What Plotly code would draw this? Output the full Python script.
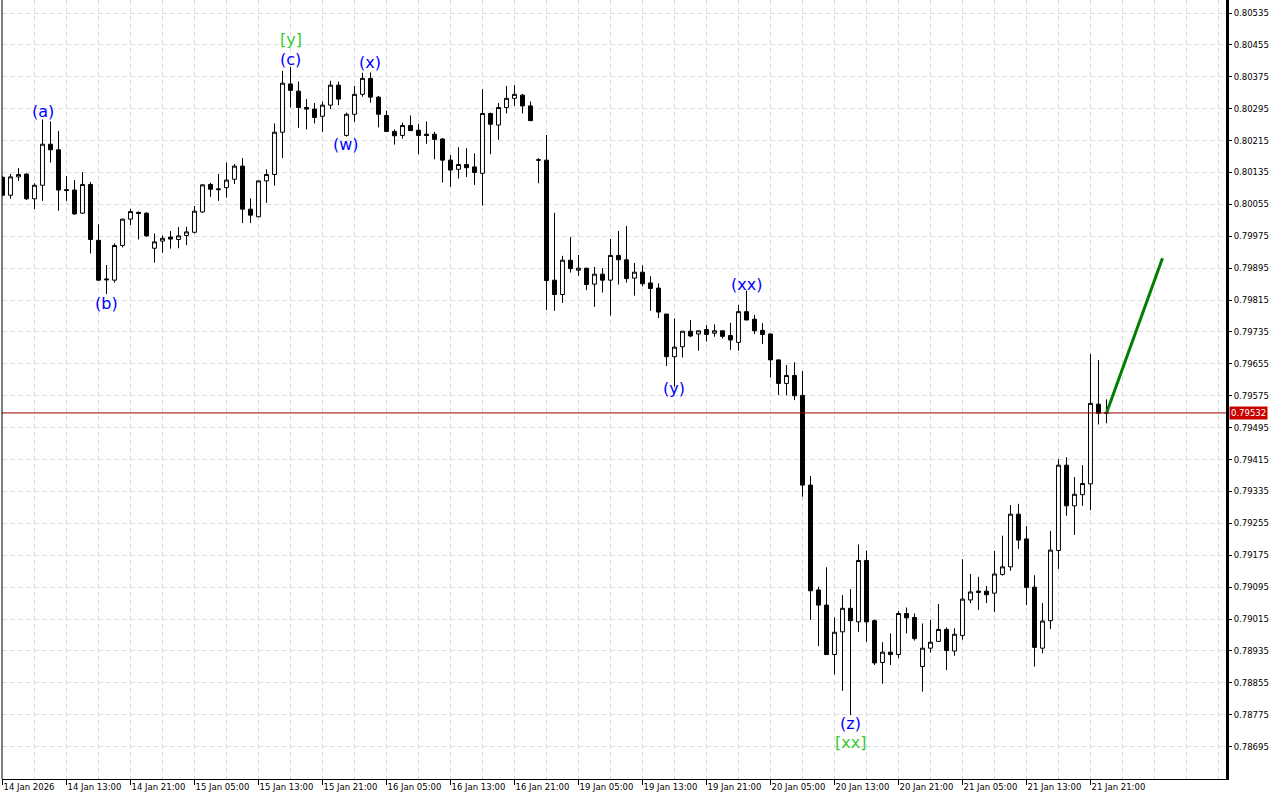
import plotly.graph_objects as go

# ---- data (H1 candles) ----
bar_index = list(range(139))

opens = [0.80123, 0.80078, 0.80124, 0.80131, 0.80069, 0.80103, 0.80206, 0.80192, 0.80092, 0.80091,
         0.80033, 0.80105, 0.79965, 0.79868, 0.79865, 0.79952, 0.80018, 0.80035, 0.80033, 0.79945,
         0.79963, 0.79973, 0.79967, 0.79977, 0.79985, 0.80036, 0.80105, 0.80094, 0.80097, 0.80118,
         0.80151, 0.80043, 0.80024, 0.80114, 0.80130, 0.80236, 0.80357, 0.80339, 0.80298, 0.80294,
         0.80276, 0.80304, 0.80354, 0.80228, 0.80281, 0.80331, 0.80371, 0.80324, 0.80278, 0.80238,
         0.80228, 0.80253, 0.80241, 0.80231, 0.80231, 0.80219, 0.80166, 0.80143, 0.80155, 0.80149,
         0.80133, 0.80283, 0.80254, 0.80298, 0.80321, 0.80329, 0.80302, 0.80167, 0.80166, 0.79865,
         0.79829, 0.79915, 0.79890, 0.79895, 0.79855, 0.79880, 0.79865, 0.79927, 0.79916, 0.79870,
         0.79885, 0.79858, 0.79845, 0.79780, 0.79673, 0.79698, 0.79737, 0.79730, 0.79741, 0.79732,
         0.79738, 0.79726, 0.79709, 0.79786, 0.79767, 0.79739, 0.79730, 0.79665, 0.79606, 0.79626,
         0.79576, 0.79351, 0.79088, 0.79050, 0.78926, 0.78983, 0.79042, 0.79008, 0.79162, 0.79011,
         0.78906, 0.78932, 0.78926, 0.79029, 0.79019, 0.78896, 0.78942, 0.78959, 0.78989, 0.78935,
         0.78974, 0.79063, 0.79085, 0.79085, 0.79080, 0.79127, 0.79146, 0.79278, 0.79216, 0.79095,
         0.78942, 0.79011, 0.79187, 0.79401, 0.79299, 0.79327, 0.79354, 0.79554, 0.79532]

highs = [0.80125, 0.80131, 0.80146, 0.80133, 0.80108, 0.80268, 0.80263, 0.80239, 0.80126, 0.80116,
         0.80136, 0.80111, 0.80005, 0.79903, 0.79957, 0.80019, 0.80044, 0.80037, 0.80035, 0.79982,
         0.79977, 0.79988, 0.79998, 0.79999, 0.80051, 0.80106, 0.80109, 0.80131, 0.80160, 0.80156,
         0.80171, 0.80070, 0.80114, 0.80143, 0.80258, 0.80390, 0.80399, 0.80363, 0.80319, 0.80309,
         0.80313, 0.80365, 0.80363, 0.80285, 0.80352, 0.80385, 0.80386, 0.80327, 0.80290, 0.80243,
         0.80260, 0.80278, 0.80257, 0.80263, 0.80237, 0.80221, 0.80179, 0.80198, 0.80196, 0.80183,
         0.80344, 0.80285, 0.80309, 0.80352, 0.80354, 0.80332, 0.80313, 0.80171, 0.80229, 0.80034,
         0.79926, 0.79973, 0.79928, 0.79896, 0.79898, 0.79895, 0.79968, 0.79988, 0.80001, 0.79908,
         0.79902, 0.79875, 0.79857, 0.79780, 0.79769, 0.79737, 0.79765, 0.79738, 0.79752, 0.79754,
         0.79739, 0.79758, 0.79803, 0.79839, 0.79778, 0.79757, 0.79731, 0.79666, 0.79652, 0.79659,
         0.79637, 0.79374, 0.79096, 0.79145, 0.79019, 0.79075, 0.79090, 0.79202, 0.79187, 0.79014,
         0.78957, 0.78979, 0.79035, 0.79044, 0.79029, 0.79004, 0.79013, 0.79053, 0.78994, 0.78992,
         0.79165, 0.79128, 0.79121, 0.79098, 0.79186, 0.79224, 0.79301, 0.79304, 0.79248, 0.79125,
         0.79055, 0.79236, 0.79416, 0.79421, 0.79371, 0.79401, 0.79680, 0.79665, 0.79566]

lows = [0.80076, 0.80069, 0.80114, 0.80066, 0.80043, 0.80064, 0.80160, 0.80039, 0.80064, 0.80029,
        0.80031, 0.79932, 0.79864, 0.79830, 0.79859, 0.79947, 0.80003, 0.79967, 0.79974, 0.79909,
        0.79934, 0.79944, 0.79945, 0.79953, 0.79982, 0.80034, 0.80074, 0.80064, 0.80072, 0.80106,
        0.80008, 0.80008, 0.80023, 0.80059, 0.80102, 0.80171, 0.80298, 0.80247, 0.80243, 0.80258,
        0.80237, 0.80294, 0.80304, 0.80225, 0.80262, 0.80325, 0.80310, 0.80248, 0.80238, 0.80205,
        0.80220, 0.80240, 0.80181, 0.80207, 0.80168, 0.80110, 0.80099, 0.80120, 0.80124, 0.80104,
        0.80052, 0.80181, 0.80217, 0.80283, 0.80302, 0.80283, 0.80265, 0.80108, 0.79790, 0.79788,
        0.79808, 0.79884, 0.79876, 0.79840, 0.79798, 0.79834, 0.79776, 0.79854, 0.79859, 0.79826,
        0.79849, 0.79788, 0.79770, 0.79650, 0.79598, 0.79671, 0.79722, 0.79688, 0.79711, 0.79723,
        0.79719, 0.79690, 0.79688, 0.79765, 0.79730, 0.79705, 0.79621, 0.79577, 0.79576, 0.79564,
        0.79322, 0.79013, 0.78947, 0.78926, 0.78876, 0.78835, 0.78774, 0.78983, 0.78958, 0.78900,
        0.78853, 0.78900, 0.78917, 0.78979, 0.78961, 0.78833, 0.78931, 0.78959, 0.78887, 0.78923,
        0.78963, 0.79055, 0.79038, 0.79055, 0.79033, 0.79124, 0.79136, 0.79191, 0.79050, 0.78896,
        0.78929, 0.78990, 0.79141, 0.79274, 0.79226, 0.79299, 0.79288, 0.79503, 0.79506]

closes = [0.80078, 0.80124, 0.80130, 0.80069, 0.80103, 0.80206, 0.80192, 0.80091, 0.80090, 0.80031,
          0.80105, 0.79967, 0.79865, 0.79866, 0.79952, 0.80018, 0.80037, 0.80032, 0.79976, 0.79961,
          0.79970, 0.79968, 0.79976, 0.79986, 0.80038, 0.80104, 0.80093, 0.80092, 0.80116, 0.80151,
          0.80043, 0.80028, 0.80114, 0.80130, 0.80236, 0.80359, 0.80341, 0.80298, 0.80294, 0.80273,
          0.80304, 0.80354, 0.80319, 0.80281, 0.80331, 0.80371, 0.80324, 0.80281, 0.80238, 0.80227,
          0.80253, 0.80240, 0.80228, 0.80228, 0.80218, 0.80166, 0.80141, 0.80155, 0.80147, 0.80135,
          0.80283, 0.80256, 0.80298, 0.80321, 0.80331, 0.80302, 0.80265, 0.80166, 0.79864, 0.79829,
          0.79915, 0.79894, 0.79895, 0.79854, 0.79880, 0.79865, 0.79927, 0.79916, 0.79869, 0.79885,
          0.79856, 0.79844, 0.79785, 0.79673, 0.79697, 0.79737, 0.79725, 0.79738, 0.79729, 0.79738,
          0.79724, 0.79715, 0.79786, 0.79765, 0.79738, 0.79729, 0.79665, 0.79606, 0.79626, 0.79575,
          0.79351, 0.79086, 0.79050, 0.78926, 0.78982, 0.79042, 0.79011, 0.79162, 0.79008, 0.78905,
          0.78932, 0.78926, 0.79029, 0.79018, 0.78966, 0.78942, 0.78957, 0.78989, 0.78936, 0.78977,
          0.79065, 0.79083, 0.79082, 0.79076, 0.79128, 0.79146, 0.79278, 0.79213, 0.79094, 0.78944,
          0.79010, 0.79188, 0.79401, 0.79299, 0.79328, 0.79355, 0.79556, 0.79531, 0.79532]

x_tick_pos = list(range(0, 137, 8))
x_tick_text = ["14 Jan 2026", "14 Jan 13:00", "14 Jan 21:00", "15 Jan 05:00", "15 Jan 13:00",
               "15 Jan 21:00", "16 Jan 05:00", "16 Jan 13:00", "16 Jan 21:00", "19 Jan 05:00",
               "19 Jan 13:00", "19 Jan 21:00", "20 Jan 05:00", "20 Jan 13:00", "20 Jan 21:00",
               "21 Jan 05:00", "21 Jan 13:00", "21 Jan 21:00"]

y_tick_vals = [0.78695, 0.78775, 0.78855, 0.78935, 0.79015, 0.79095, 0.79175, 0.79255,
               0.79335, 0.79415, 0.79495, 0.79575, 0.79655, 0.79735, 0.79815, 0.79895,
               0.79975, 0.80055, 0.80135, 0.80215, 0.80295, 0.80375, 0.80455, 0.80535]

wave_labels = ["(a)", "(b)", "[y]", "(c)", "(w)", "(x)", "(y)", "(xx)", "(z)", "[xx]"]
wave_bar = [5, 13, 36, 36, 43, 46, 84, 93, 106, 106]
wave_price = [0.80289, 0.79807, 0.80469, 0.80419, 0.80206, 0.80410, 0.79593, 0.79854, 0.78754, 0.78705]
wave_degree = ["minor", "minor", "major", "minor", "minor", "minor", "minor", "minor", "minor", "major"]

projection_bar = [138, 145]
projection_price = [0.79532, 0.79920]

current_price = 0.79532

# ---- styles ----
GRID = "#dcdcdc"
LABEL_COLORS = {"minor": "#0000FF", "major": "#32CD32"}
FONT = "DejaVu Sans"

fig = go.Figure()

fig.add_trace(go.Candlestick(
    x=bar_index, open=opens, high=highs, low=lows, close=closes,
    increasing=dict(line=dict(color="black", width=1), fillcolor="white"),
    decreasing=dict(line=dict(color="black", width=1), fillcolor="black"),
    whiskerwidth=0, showlegend=False, hoverinfo="skip",
))

fig.add_trace(go.Scatter(
    x=projection_bar, y=projection_price, mode="lines",
    line=dict(color="#008000", width=3), showlegend=False, hoverinfo="skip",
))

# current price line
fig.add_shape(type="line", xref="paper", x0=0, x1=1, yref="y",
              y0=current_price, y1=current_price,
              line=dict(color="#990000", width=1), layer="above")
# left frame line
fig.add_shape(type="line", xref="paper", x0=0, x1=0, yref="paper", y0=0, y1=1,
              line=dict(color="black", width=1))

for txt, b, p, d in zip(wave_labels, wave_bar, wave_price, wave_degree):
    fig.add_annotation(x=b, y=p, text=txt, showarrow=False,
                       xanchor="center", yanchor="middle",
                       font=dict(family=FONT, size=16, color=LABEL_COLORS[d]))

fig.add_annotation(xref="paper", x=1, y=current_price, text=f"{current_price:.5f}",
                   showarrow=False, xanchor="left", yanchor="middle", xshift=3,
                   bgcolor="#c80000", borderpad=1,
                   font=dict(family=FONT, size=8.5, color="white"))

fig.update_layout(
    width=1280, height=800,
    margin=dict(l=2, r=54, t=0, b=21, autoexpand=False),
    paper_bgcolor="white", plot_bgcolor="white",
    showlegend=False,
    xaxis=dict(
        range=[-0.0625, 152.94], rangeslider=dict(visible=False),
        tickmode="array", tickvals=x_tick_pos, ticktext=x_tick_text,
        ticklabelposition="outside right",
        ticks="outside", ticklen=5, tickcolor="black", tickwidth=1,
        showline=True, linecolor="black", linewidth=1,
        showgrid=True, gridcolor=GRID, griddash="5px,3px", gridwidth=1,
        minor=dict(tick0=0, dtick=4, showgrid=True, gridcolor=GRID,
                   griddash="5px,3px", ticks=""),
        zeroline=False,
        tickfont=dict(family=FONT, size=8.5, color="black"),
    ),
    yaxis=dict(
        side="right", range=[0.786139, 0.805676],
        tickmode="array", tickvals=y_tick_vals, tickformat=".5f",
        ticks="outside", ticklen=3, tickcolor="black",
        showline=True, linecolor="black", linewidth=3,
        showgrid=True, gridcolor=GRID, griddash="5px,3px", gridwidth=1,
        zeroline=False,
        tickfont=dict(family=FONT, size=8.5, color="black"),
    ),
)

fig.write_html(
    "out.html",
    config={"displayModeBar": False},
    post_script="document.body.style.margin='0';document.body.style.overflow='hidden';",
)
